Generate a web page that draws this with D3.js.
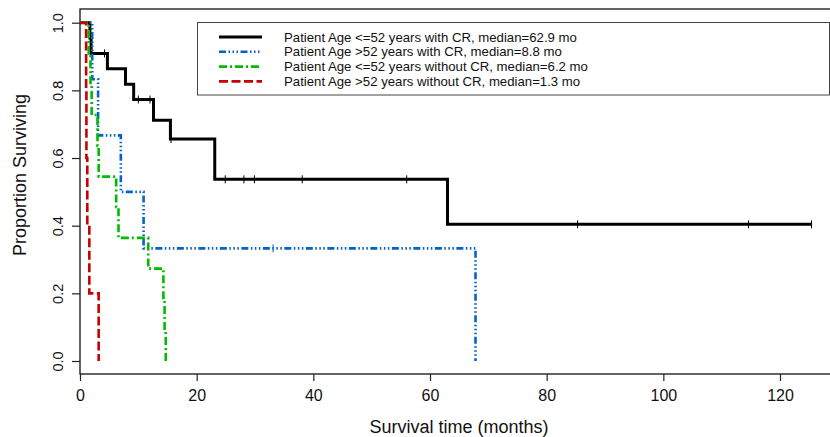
<!DOCTYPE html>
<html>
<head>
<meta charset="utf-8">
<script src="https://cdn.jsdelivr.net/npm/d3@7"></script>
<style>
  html, body { margin: 0; padding: 0; background: #fff; }
  svg { display: block; font-family: "Liberation Sans", Arial, sans-serif; }
</style>
</head>
<body>
<svg id="chart" width="830" height="437"></svg>
<script>
// Kaplan-Meier curves: [time in months, survival after the drop]
const seriesLabels = [
  "Patient Age <=52 years with CR, median=62.9 mo",
  "Patient Age >52 years with CR, median=8.8 mo",
  "Patient Age <=52 years without CR, median=6.2 mo",
  "Patient Age >52 years without CR, median=1.3 mo"
];
const seriesColors = ["#000000", "#0563c8", "#00bb00", "#c80000"];

const youngCrSteps = [[0, 1], [1.7, 0.955], [1.9, 0.909], [4.7, 0.864], [7.8, 0.818], [9.2, 0.773],
  [12.6, 0.712], [15.5, 0.656], [23.1, 0.537], [63.0, 0.404], [125.5, 0.404]];
const youngCrCensor = [4.2, 10.0, 12.0, 15.6, 24.9, 28.1, 29.9, 38.1, 56.0, 85.3, 114.6, 125.4];

const oldCrSteps = [[0, 1], [2.1, 0.833], [3.1, 0.667], [7.0, 0.5], [10.9, 0.333], [67.8, 0]];
const oldCrCensor = [33.1];

const youngNoCrSteps = [[0, 1], [1.5, 0.909], [1.8, 0.818], [2.0, 0.727], [3.0, 0.636], [3.2, 0.545],
  [6.2, 0.455], [6.6, 0.364], [11.7, 0.273], [14.3, 0.182], [14.5, 0.091], [14.7, 0]];
const youngNoCrCensor = [];

const oldNoCrSteps = [[0, 1], [1.05, 0.8], [1.1, 0.6], [1.25, 0.4], [1.6, 0.2], [3.2, 0]];
const oldNoCrCensor = [];

const xTicks = [0, 20, 40, 60, 80, 100, 120];
const yTicks = [0, 0.2, 0.4, 0.6, 0.8, 1.0];

const series = [
  { steps: youngCrSteps, censor: youngCrCensor, dash: null, width: 3 },
  { steps: oldCrSteps, censor: oldCrCensor, dash: "7,2.5,1.5,2.5,1.5,2.5,1.5,2.5", width: 2.6 },
  { steps: youngNoCrSteps, censor: youngNoCrCensor, dash: "8,3,2,3", width: 2.6 },
  { steps: oldNoCrSteps, censor: oldNoCrCensor, dash: "9,3.5", width: 2.6 }
];

const svg = d3.select("#chart");
const plot = { left: 80, top: 9, bottom: 374 };

const x = d3.scaleLinear().domain([0, 120]).range([80, 780]);
const y = d3.scaleLinear().domain([0, 1]).range([361, 22.7]);

// plot frame (right side runs off the picture)
svg.append("rect")
  .attr("x", plot.left)
  .attr("y", plot.top)
  .attr("width", 770)
  .attr("height", plot.bottom - plot.top)
  .attr("fill", "none")
  .attr("stroke", "#111")
  .attr("stroke-width", 1.3);

const xAxisG = svg.append("g")
  .attr("transform", `translate(0,${plot.bottom})`)
  .call(d3.axisBottom(x).tickValues(xTicks).tickSize(7).tickSizeOuter(0).tickFormat(d3.format("d")));
xAxisG.select(".domain").remove();
xAxisG.selectAll("line").attr("stroke", "#222").attr("stroke-width", 1.2);
xAxisG.selectAll("text")
  .attr("y", 27)
  .attr("dy", 0)
  .attr("fill", "#111")
  .attr("font-size", 16)
  .attr("font-family", "Liberation Sans, Arial, sans-serif");

const yAxisG = svg.append("g")
  .attr("transform", `translate(${plot.left},0)`)
  .call(d3.axisLeft(y).tickValues(yTicks).tickSize(8).tickSizeOuter(0).tickFormat(d3.format(".1f")));
yAxisG.select(".domain").remove();
yAxisG.selectAll("line").attr("stroke", "#222").attr("stroke-width", 1.2);
yAxisG.selectAll("text")
  .attr("transform", "rotate(-90)")
  .attr("x", 0)
  .attr("y", -17)
  .attr("dy", 0)
  .attr("text-anchor", "middle")
  .attr("fill", "#111")
  .attr("font-size", 14.5)
  .attr("font-family", "Liberation Sans, Arial, sans-serif");

svg.append("text")
  .attr("x", 459)
  .attr("y", 433)
  .attr("text-anchor", "middle")
  .attr("font-size", 18)
  .attr("fill", "#111")
  .text("Survival time (months)");

svg.append("text")
  .attr("transform", "translate(26,175) rotate(-90)")
  .attr("text-anchor", "middle")
  .attr("font-size", 18)
  .attr("fill", "#111")
  .text("Proportion Surviving");

const stepLine = d3.line()
  .x(d => x(d[0]))
  .y(d => y(d[1]))
  .curve(d3.curveStepAfter);

function survivalAt(steps, t) {
  let s = steps[0][1];
  steps.forEach(d => { if (d[0] <= t) s = d[1]; });
  return s;
}

series.forEach((s, i) => {
  svg.append("path")
    .datum(s.steps)
    .attr("d", stepLine)
    .attr("fill", "none")
    .attr("stroke", seriesColors[i])
    .attr("stroke-width", s.width)
    .attr("stroke-dasharray", s.dash)
    .attr("stroke-linejoin", "miter");

  svg.selectAll(null)
    .data(s.censor)
    .enter()
    .append("line")
    .attr("x1", t => x(t))
    .attr("x2", t => x(t))
    .attr("y1", t => y(survivalAt(s.steps, t)) - 4)
    .attr("y2", t => y(survivalAt(s.steps, t)) + 4)
    .attr("stroke", seriesColors[i])
    .attr("stroke-width", 1);
});

// legend
const legend = svg.append("g");
legend.append("rect")
  .attr("x", 197.5)
  .attr("y", 22.5)
  .attr("width", 632)
  .attr("height", 72.5)
  .attr("fill", "#fff")
  .attr("stroke", "#444")
  .attr("stroke-width", 1);

seriesLabels.forEach((label, i) => {
  const ly = 37 + i * 14.8;
  legend.append("line")
    .attr("x1", 219)
    .attr("x2", 262)
    .attr("y1", ly)
    .attr("y2", ly)
    .attr("stroke", seriesColors[i])
    .attr("stroke-width", series[i].width)
    .attr("stroke-dasharray", series[i].dash);
  legend.append("text")
    .attr("x", 284)
    .attr("y", ly)
    .attr("dy", "0.35em")
    .attr("font-size", 13.2)
    .attr("fill", "#111")
    .text(label);
});
</script>
</body>
</html>
